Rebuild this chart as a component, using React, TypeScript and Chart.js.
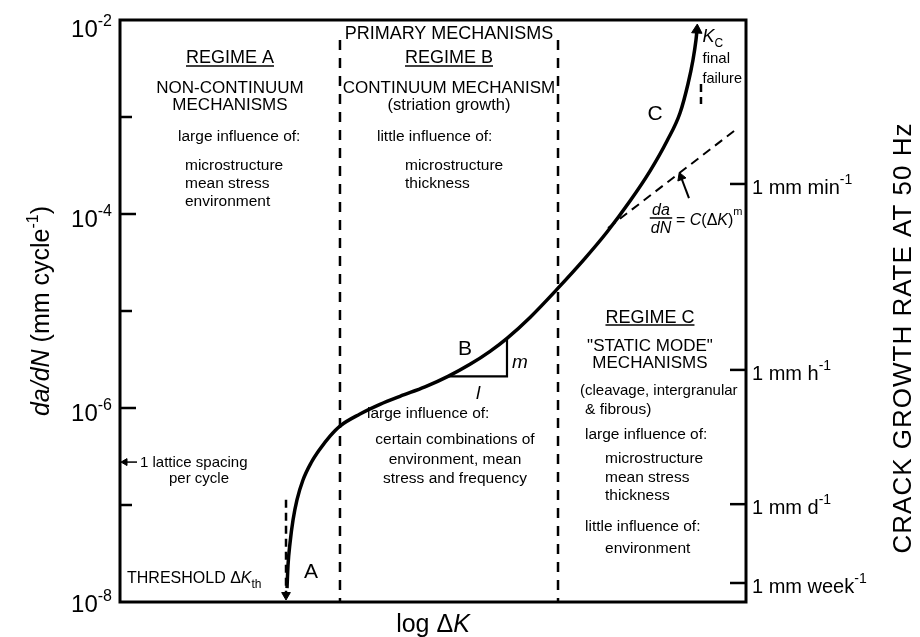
import React, { useEffect, useRef } from "react";
import { Chart, registerables } from "chart.js";

Chart.register(...registerables);

const FONT = '"Liberation Sans", Arial, Helvetica, sans-serif';

// ---- axis ranges (schematic log ΔK axis, da/dN in mm/cycle) ----
const LOGDK_MIN = 0;
const LOGDK_MAX = 100;
const RATE_MIN = 1e-8;
const RATE_MAX = 1e-2;

// ---- main sigmoidal da/dN curve ----
const curveLogDK = [
  26.68, 26.84, 27.16, 27.64, 28.27, 29.23, 30.51, 31.95, 33.55, 35.14, 38.34, 41.53,
  44.73, 48.72, 52.4, 55.91, 59.11, 61.82, 65.5, 69.97, 74.28, 77.8, 81.47, 84.66,
  87.38, 89.46, 90.73, 91.53, 92.01, 92.17,
];
const curveRate = [
  1.39e-8, 2.4e-8, 4.06e-8, 7.0e-8, 1.13e-7, 1.81e-7, 2.71e-7, 3.78e-7, 5.14e-7, 6.52e-7,
  8.67e-7, 1.09e-6, 1.32e-6, 1.65e-6, 2.12e-6, 2.82e-6, 3.84e-6, 5.23e-6, 8.59e-6, 1.72e-5,
  3.49e-5, 6.52e-5, 1.36e-4, 2.77e-4, 5.66e-4, 1.1e-3, 2.19e-3, 3.87e-3, 6.22e-3, 7.88e-3,
];

// ---- Paris law extension  da/dN = C(ΔK)^m ----
const parisLogDK = [77.96, 98.72];
const parisRate = [7.18e-5, 7.71e-4];

// ---- regime boundaries ----
const boundaryLogDK = [35.14, 69.97];
const boundaryTopRate = 6.22e-3;

// ---- threshold and final failure asymptotes ----
const thresholdLogDK = 26.52;
const thresholdRates = [1.13e-7, 1.18e-8];
const kcLogDK = 92.81;
const kcRates = [2.19e-3, 1.36e-3];

// ---- slope triangle at B ----
const triLogDK = [52.4, 61.82, 61.82];
const triRate = [2.12e-6, 2.12e-6, 5.23e-6];

// ---- lattice spacing marker ----
const latticeRate = 2.77e-7;
const latticeLogDK = [2.72, 0.8];

// ---- arrow to Paris line ----
const eqArrowLogDK = [90.89, 89.62];
const eqArrowRate = [1.46e-4, 2.4e-4];

// ---- left axis ticks ----
const leftMajorTicks = [1e-4, 1e-6];
const leftMinorTicks = [1e-3, 1e-5, 1e-7];
const leftLabelValues = [1e-2, 1e-4, 1e-6, 1e-8];
const leftLabelExps = ["-2", "-4", "-6", "-8"];

// ---- right axis: crack growth rate at 50 Hz ----
const rightTickRates = [2.04e-4, 2.47e-6, 1.02e-7, 1.57e-8];
const rightTickUnits = ["min", "h", "d", "week"];

type Part = { t: string; size: number; italic?: boolean; rise?: number };
const L = 15.5; // lower-case body text size
const U = 17; // upper-case line size
const p = (s: string, size = L, italic = false, rise = 0): Part => ({ t: s, size, italic, rise });

type Note = { parts: Part[]; x: number; ly: number; align: "left" | "center" | "right"; underline?: boolean };

const notes: Note[] = [
  { parts: [p("PRIMARY MECHANISMS", 18)], x: 52.56, ly: -2.124, align: "center" },
  { parts: [p("REGIME A", 18)], x: 17.57, ly: -2.381, align: "center", underline: true },
  { parts: [p("NON-CONTINUUM", U)], x: 17.57, ly: -2.691, align: "center" },
  { parts: [p("MECHANISMS", U)], x: 17.57, ly: -2.866, align: "center" },
  { parts: [p("large influence of:")], x: 9.27, ly: -3.186, align: "left" },
  { parts: [p("microstructure")], x: 10.38, ly: -3.485, align: "left" },
  { parts: [p("mean stress")], x: 10.38, ly: -3.67, align: "left" },
  { parts: [p("environment")], x: 10.38, ly: -3.856, align: "left" },

  { parts: [p("REGIME B", 18)], x: 52.56, ly: -2.381, align: "center", underline: true },
  { parts: [p("CONTINUUM MECHANISM", U)], x: 52.56, ly: -2.691, align: "center" },
  { parts: [p("(striation growth)", 16.5)], x: 52.56, ly: -2.866, align: "center" },
  { parts: [p("little influence of:")], x: 41.05, ly: -3.186, align: "left" },
  { parts: [p("microstructure")], x: 45.53, ly: -3.485, align: "left" },
  { parts: [p("thickness")], x: 45.53, ly: -3.67, align: "left" },
  { parts: [p("large influence of:")], x: 39.46, ly: -6.041, align: "left" },
  { parts: [p("certain combinations of")], x: 53.51, ly: -6.309, align: "center" },
  { parts: [p("environment, mean")], x: 53.51, ly: -6.515, align: "center" },
  { parts: [p("stress and frequency")], x: 53.51, ly: -6.711, align: "center" },

  { parts: [p("REGIME C", 18)], x: 84.66, ly: -5.052, align: "center", underline: true },
  { parts: [p('"STATIC MODE"', U)], x: 84.66, ly: -5.351, align: "center" },
  { parts: [p("MECHANISMS", U)], x: 84.66, ly: -5.526, align: "center" },
  { parts: [p("(cleavage, intergranular", 15)], x: 73.48, ly: -5.814, align: "left" },
  { parts: [p("& fibrous)")], x: 74.28, ly: -6.0, align: "left" },
  { parts: [p("large influence of:")], x: 74.28, ly: -6.258, align: "left" },
  { parts: [p("microstructure")], x: 77.48, ly: -6.505, align: "left" },
  { parts: [p("mean stress")], x: 77.48, ly: -6.701, align: "left" },
  { parts: [p("thickness")], x: 77.48, ly: -6.887, align: "left" },
  { parts: [p("little influence of:")], x: 74.28, ly: -7.206, align: "left" },
  { parts: [p("environment")], x: 77.48, ly: -7.433, align: "left" },

  { parts: [p("C", 21)], x: 85.46, ly: -2.948, align: "center" },
  { parts: [p("K", 18, true), p("C", 12, false, -5)], x: 93.05, ly: -2.165, align: "left" },
  { parts: [p("final", 15)], x: 93.05, ly: -2.392, align: "left" },
  { parts: [p("failure", 14.5)], x: 93.05, ly: -2.598, align: "left" },

  { parts: [p("A", 21)], x: 30.51, ly: -7.67, align: "center" },
  { parts: [p("THRESHOLD \u0394", 16), p("K", 16, true), p("th", 12, false, -5)], x: 1.12, ly: -7.742, align: "left" },
  { parts: [p("1 lattice spacing", 15)], x: 3.19, ly: -6.557, align: "left" },
  { parts: [p("per cycle", 15)], x: 12.62, ly: -6.722, align: "center" },

  { parts: [p("B", 21)], x: 55.11, ly: -5.371, align: "center" },
  { parts: [p("m", 19, true)], x: 63.9, ly: -5.515, align: "center" },
  { parts: [p("l", 19, true)], x: 57.19, ly: -5.835, align: "center" },

  {
    parts: [p("= ", 16), p("C", 16, true), p("(\u0394", 16), p("K", 16, true), p(")", 16), p("m", 11, false, 10)],
    x: 88.82, ly: -4.052, align: "left",
  },
];

const fraction = { num: [p("da", 16, true)], den: [p("dN", 16, true)], x: 86.42, lyNum: -3.948, lyBar: -4.041, lyDen: -4.134 };

function fontOf(q: Part) {
  return `${q.italic ? "italic " : ""}${q.size}px ${FONT}`;
}
function widthOf(ctx: CanvasRenderingContext2D, parts: Part[]) {
  let w = 0;
  for (const q of parts) {
    ctx.font = fontOf(q);
    w += ctx.measureText(q.t).width;
  }
  return w;
}
function drawParts(ctx: CanvasRenderingContext2D, parts: Part[], x: number, yMid: number, align: string) {
  const w = widthOf(ctx, parts);
  let cx = align === "center" ? x - w / 2 : align === "right" ? x - w : x;
  const left = cx;
  const base = yMid + parts[0].size * 0.36;
  ctx.textAlign = "left";
  ctx.textBaseline = "alphabetic";
  for (const q of parts) {
    ctx.font = fontOf(q);
    ctx.fillText(q.t, cx, base - (q.rise || 0));
    cx += ctx.measureText(q.t).width;
  }
  return { left, right: cx, base };
}

const overlay = {
  id: "overlay",
  afterDraw(chart: any) {
    const ctx: CanvasRenderingContext2D = chart.ctx;
    const ca = chart.chartArea;
    const xs = chart.scales.x;
    const ys = chart.scales.y;
    ctx.save();
    ctx.fillStyle = "#000";
    ctx.strokeStyle = "#000";

    // frame
    ctx.lineWidth = 3;
    ctx.strokeRect(ca.left, ca.top, ca.right - ca.left, ca.bottom - ca.top);

    // ticks (inside the frame)
    ctx.lineWidth = 2.5;
    const tick = (v: number, len: number, side: "l" | "r") => {
      const y = ys.getPixelForValue(v);
      ctx.beginPath();
      if (side === "l") {
        ctx.moveTo(ca.left, y);
        ctx.lineTo(ca.left + len, y);
      } else {
        ctx.moveTo(ca.right, y);
        ctx.lineTo(ca.right - len, y);
      }
      ctx.stroke();
    };
    leftMajorTicks.forEach((v) => tick(v, 16, "l"));
    leftMinorTicks.forEach((v) => tick(v, 12, "l"));
    rightTickRates.forEach((v) => tick(v, 16, "r"));

    // left tick labels
    leftLabelValues.forEach((v, i) => {
      let y = ys.getPixelForValue(v) + 4;
      if (v >= RATE_MAX) y = ca.top + 8;
      if (v <= RATE_MIN) y = ca.bottom + 1;
      drawParts(ctx, [p("10", 24), p(leftLabelExps[i], 16, false, 11)], ca.left - 8, y, "right");
    });

    // right tick labels
    rightTickRates.forEach((v, i) => {
      const y = ys.getPixelForValue(v) + 3;
      drawParts(ctx, [p("1 mm " + rightTickUnits[i], 20), p("-1", 14, false, 10)], ca.right + 6, y, "left");
    });

    // axis titles
    const midY = (ca.top + ca.bottom) / 2;
    ctx.save();
    ctx.translate(ca.left - 80, midY);
    ctx.rotate(-Math.PI / 2);
    drawParts(
      ctx,
      [p("da", 25, true), p("/", 25, true), p("dN", 25, true), p(" (mm cycle", 25), p("-1", 16, false, 11), p(")", 25)],
      0, 0, "center"
    );
    ctx.restore();

    ctx.save();
    ctx.translate(ca.right + 156, ca.top + 318);
    ctx.rotate(-Math.PI / 2);
    (ctx as any).letterSpacing = "1px";
    drawParts(ctx, [p("CRACK GROWTH RATE AT 50 Hz", 26)], 0, 0, "center");
    (ctx as any).letterSpacing = "0px";
    ctx.restore();

    drawParts(ctx, [p("log \u0394", 25), p("K", 25, true)], ca.left + 313, ca.bottom + 21, "center");

    // annotations
    for (const n of notes) {
      const x = xs.getPixelForValue(n.x);
      const y = ys.getPixelForValue(Math.pow(10, n.ly));
      const r = drawParts(ctx, n.parts, x, y, n.align);
      if (n.underline) {
        ctx.lineWidth = 1.5;
        ctx.beginPath();
        ctx.moveTo(r.left, r.base + 2.5);
        ctx.lineTo(r.right, r.base + 2.5);
        ctx.stroke();
      }
    }

    // fraction da/dN
    const fx = xs.getPixelForValue(fraction.x);
    drawParts(ctx, fraction.num, fx, ys.getPixelForValue(Math.pow(10, fraction.lyNum)), "center");
    drawParts(ctx, fraction.den, fx, ys.getPixelForValue(Math.pow(10, fraction.lyDen)), "center");
    const bw = widthOf(ctx, fraction.den) + 2;
    const by = ys.getPixelForValue(Math.pow(10, fraction.lyBar));
    ctx.lineWidth = 1.5;
    ctx.beginPath();
    ctx.moveTo(fx - bw / 2, by);
    ctx.lineTo(fx + bw / 2, by);
    ctx.stroke();

    ctx.restore();
  },
};

const pts = (xs: number[], ys: number[]) => xs.map((x, i) => ({ x, y: ys[i] }));

export default function App() {
  const ref = useRef<HTMLCanvasElement>(null);
  useEffect(() => {
    const canvas = ref.current;
    if (!canvas) return;
    const last = curveLogDK.length - 1;
    const chart = new Chart(canvas, {
      type: "scatter",
      data: {
        datasets: [
          {
            data: pts(curveLogDK, curveRate),
            showLine: true,
            borderColor: "#000",
            borderWidth: 3.5,
            cubicInterpolationMode: "monotone",
            pointRadius: curveLogDK.map((_, i) => (i === last ? 6 : 0)),
            pointStyle: "triangle",
            pointRotation: 3,
            pointBackgroundColor: "#000",
            pointBorderColor: "#000",
            pointBorderWidth: 1,
            clip: false,
          } as any,
          {
            data: pts(parisLogDK, parisRate),
            showLine: true,
            borderColor: "#000",
            borderWidth: 2,
            borderDash: [9, 6],
            pointRadius: 0,
          },
          ...boundaryLogDK.map((bx) => ({
            data: [
              { x: bx, y: boundaryTopRate },
              { x: bx, y: RATE_MIN },
            ],
            showLine: true,
            borderColor: "#000",
            borderWidth: 2.5,
            borderDash: [10, 8],
            pointRadius: 0,
          })),
          {
            data: thresholdRates.map((y) => ({ x: thresholdLogDK, y })),
            showLine: true,
            borderColor: "#000",
            borderWidth: 2.5,
            borderDash: [8, 5],
            pointRadius: [0, 5],
            pointStyle: "triangle",
            pointRotation: 180,
            pointBackgroundColor: "#000",
            pointBorderColor: "#000",
            pointBorderWidth: 1,
            clip: false,
          } as any,
          {
            data: kcRates.map((y) => ({ x: kcLogDK, y })),
            showLine: true,
            borderColor: "#000",
            borderWidth: 2.5,
            borderDash: [8, 5],
            pointRadius: 0,
          },
          {
            data: pts(triLogDK, triRate),
            showLine: true,
            borderColor: "#000",
            borderWidth: 2.2,
            pointRadius: 0,
          },
          {
            data: latticeLogDK.map((x) => ({ x, y: latticeRate })),
            showLine: true,
            borderColor: "#000",
            borderWidth: 1.5,
            pointRadius: [0, 4],
            pointStyle: "triangle",
            pointRotation: -90,
            pointBackgroundColor: "#000",
            pointBorderColor: "#000",
            pointBorderWidth: 1,
          } as any,
          {
            data: pts(eqArrowLogDK, eqArrowRate),
            showLine: true,
            borderColor: "#000",
            borderWidth: 2,
            pointRadius: [0, 5],
            pointStyle: "triangle",
            pointRotation: -21,
            pointBackgroundColor: "#000",
            pointBorderColor: "#000",
            pointBorderWidth: 1,
          } as any,
        ],
      },
      options: {
        animation: false,
        responsive: true,
        maintainAspectRatio: false,
        layout: { padding: { left: 112, right: 166, top: 12, bottom: 35 } },
        scales: {
          x: { type: "linear", min: LOGDK_MIN, max: LOGDK_MAX, display: false },
          y: { type: "logarithmic", min: RATE_MIN, max: RATE_MAX, display: false },
        },
        plugins: { legend: { display: false }, tooltip: { enabled: false } },
        events: [],
      },
      plugins: [overlay],
    });
    return () => chart.destroy();
  }, []);
  return (
    <div style={{ position: "relative", width: 904, height: 629 }}>
      <canvas ref={ref} />
    </div>
  );
}
